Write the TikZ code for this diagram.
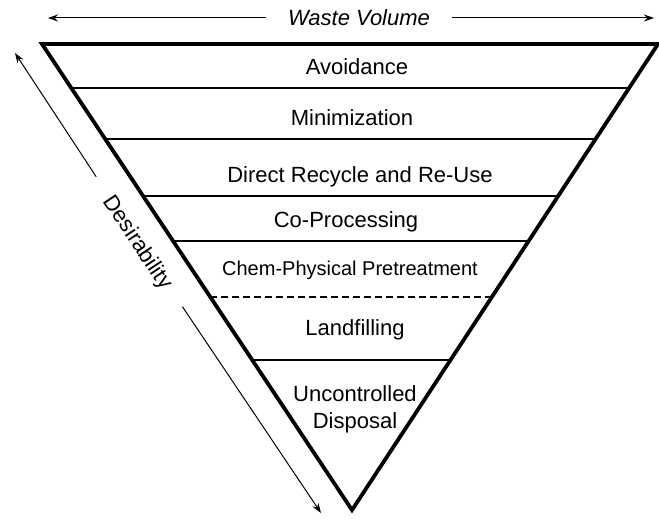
\documentclass[tikz,border=0pt]{standalone}
\usepackage{fontspec}
\setmainfont{Liberation Sans}
\usetikzlibrary{calc,arrows.meta}
\tikzset{
  lbl/.style={font=\fontsize{22}{26}\selectfont, text height=15.8pt, text depth=0pt, inner sep=0pt},
  smalllbl/.style={font=\fontsize{20}{24}\selectfont, text height=14.3pt, text depth=0pt, inner sep=0pt},
  tri/.style={line width=3.8pt, line join=miter},
  layer/.style={line width=1.3pt},
  dashlayer/.style={line width=1.4pt, dash pattern=on 7pt off 4pt},
  axis/.style={line width=1pt, -{Stealth[length=10pt,width=7pt]}}
}
\begin{document}
\begin{tikzpicture}[x=1pt,y=1pt]
\useasboundingbox (0,0) rectangle (659,-521);
% triangle corners
\coordinate (TL) at (42,-44);
\coordinate (TR) at (658,-44);
\coordinate (A) at (352,-510);
\draw[tri] (TL) -- (TR) -- (A) -- cycle;
% layer boundaries
\foreach \t/\s in {0.0944/layer,0.2039/layer,0.3262/layer,0.4227/layer,0.5429/dashlayer,0.6781/layer}{
  \draw[\s] ($(TL)!\t!(A)$) -- ($(TR)!\t!(A)$);
}
% layer labels
\node[lbl] (avoid) at (357,-67) {Avoidance};
\node[lbl] (mini) at (352,-118) {Minimization};
\node[lbl] (direct) at (360,-175) {Direct Recycle and Re-Use};
\node[lbl] (coproc) at (346,-220) {Co-Processing};
\node[smalllbl] (chem) at (350,-268) {Chem-Physical Pretreatment};
\node[lbl] (land) at (355,-328) {Landfilling};
\node[font=\fontsize{22}{27}\selectfont, align=center, inner sep=0pt] (unc) at (355,-409) {Uncontrolled\\Disposal};
% waste volume axis
\coordinate (WL) at (48,-18);
\coordinate (WR) at (654,-18);
\node[lbl, font=\fontsize{22}{26}\selectfont\itshape, inner xsep=22pt] (waste) at (359,-18) {Waste Volume};
\draw[axis] (waste) -- (WL);
\draw[axis] (waste) -- (WR);
% desirability axis
\coordinate (DT) at (15,-53);
\coordinate (DB) at (321,-513);
\node[lbl, rotate=-56.4, inner xsep=24pt] (des) at (139,-242) {Desirability};
\draw[axis] (des) -- (DT);
\draw[axis] (des) -- (DB);
\end{tikzpicture}
\end{document}
